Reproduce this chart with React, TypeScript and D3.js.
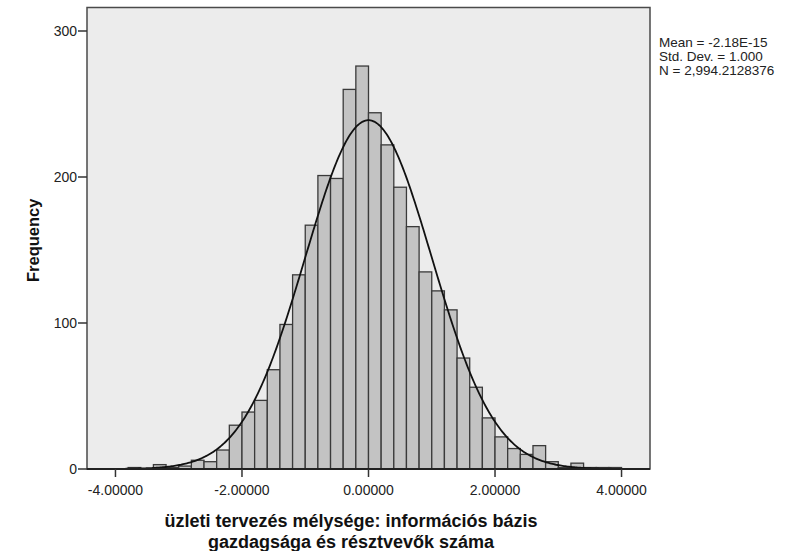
import React, { useEffect, useRef } from 'react';
import * as d3 from 'd3';

// histogram bins (left edge, width 0.2) and counts
const binStarts = [-3.8, -3.6, -3.4, -3.2, -3.0, -2.8, -2.6, -2.4, -2.2, -2.0, -1.8, -1.6, -1.4, -1.2, -1.0, -0.8, -0.6, -0.4, -0.2, 0.0, 0.2, 0.4, 0.6, 0.8, 1.0, 1.2, 1.4, 1.6, 1.8, 2.0, 2.2, 2.4, 2.6, 2.8, 3.0, 3.2, 3.4, 3.6, 3.8];
const counts = [1, 0, 3, 1, 2, 6, 5, 13, 30, 39, 47, 68, 99, 133, 167, 201, 199, 260, 276, 244, 222, 193, 166, 135, 122, 109, 76, 56, 35, 22, 14, 10, 16, 5, 1, 4, 1, 1, 1];
const binWidth = 0.2;

const xTicks = [-4, -2, 0, 2, 4];
const yTicks = [0, 100, 200, 300];

const statsMean = -2.18e-15;
const statsSd = 1.0;
const statsN = 2994.2128376;
const statsLines = ['Mean = -2.18E-15', 'Std. Dev. = 1.000', 'N = 2,994.2128376'];

const xTitleLines = ['üzleti tervezés mélysége: információs bázis', 'gazdagsága és résztvevők száma'];

const font = '"Liberation Sans", Arial, sans-serif';

const Histogram: React.FC = () => {
	const svgRef = useRef<SVGSVGElement>(null);

	useEffect(() => {
		if (!svgRef.current) return;

		const width = 800;
		const height = 551;
		const left = 87, right = 650, top = 7.5, bottom = 469;

		const x = d3.scaleLinear().domain([-4.45, 4.45]).range([left, right]);
		const y = d3.scaleLinear().domain([0, 300]).range([bottom, 31]);

		const svg = d3.select(svgRef.current)
			.attr('width', width)
			.attr('height', height);

		svg.selectAll('*').remove();

		// plot background
		svg.append('rect')
			.attr('x', left)
			.attr('y', top)
			.attr('width', right - left)
			.attr('height', bottom - top)
			.attr('fill', '#ececec');

		// bars
		svg.append('g')
			.selectAll('rect')
			.data(binStarts.map((s, i) => ({ s, c: counts[i] })).filter(d => d.c > 0))
			.join('rect')
			.attr('x', d => x(d.s))
			.attr('y', d => y(d.c))
			.attr('width', d => x(d.s + binWidth) - x(d.s))
			.attr('height', d => y(0) - y(d.c))
			.attr('fill', '#c3c3c3')
			.attr('stroke', '#3a3a3a')
			.attr('stroke-width', 1.3);

		// normal curve
		const scale = statsN * binWidth / (statsSd * Math.sqrt(2 * Math.PI));
		const pts = d3.range(-4.45, 4.4501, 0.02).map(v => [v, scale * Math.exp(-0.5 * ((v - statsMean) / statsSd) ** 2)] as [number, number]);
		svg.append('path')
			.attr('d', d3.line<[number, number]>().x(d => x(d[0])).y(d => y(d[1]))(pts) ?? '')
			.attr('fill', 'none')
			.attr('stroke', '#111')
			.attr('stroke-width', 1.8);

		// frame
		svg.append('rect')
			.attr('x', left)
			.attr('y', top)
			.attr('width', right - left)
			.attr('height', bottom - top)
			.attr('fill', 'none')
			.attr('stroke', '#4a4a4a')
			.attr('stroke-width', 1.5);

		svg.append('line')
			.attr('x1', left).attr('x2', right)
			.attr('y1', bottom).attr('y2', bottom)
			.attr('stroke', '#222')
			.attr('stroke-width', 1.8);

		// y axis
		const yAxis = svg.append('g');
		yTicks.forEach(t => {
			yAxis.append('line')
				.attr('x1', left - 9).attr('x2', left)
				.attr('y1', y(t)).attr('y2', y(t))
				.attr('stroke', '#333').attr('stroke-width', 1.5);
			yAxis.append('text')
				.attr('x', left - 10)
				.attr('y', y(t))
				.attr('dy', '0.36em')
				.attr('text-anchor', 'end')
				.attr('font-family', font)
				.attr('font-size', 14)
				.attr('fill', '#222')
				.text(t);
		});

		// x axis
		const xAxis = svg.append('g');
		xTicks.forEach(t => {
			xAxis.append('line')
				.attr('x1', x(t)).attr('x2', x(t))
				.attr('y1', bottom).attr('y2', bottom + 8)
				.attr('stroke', '#333').attr('stroke-width', 1.5);
			xAxis.append('text')
				.attr('x', x(t))
				.attr('y', 495)
				.attr('text-anchor', 'middle')
				.attr('font-family', font)
				.attr('font-size', 14)
				.attr('fill', '#222')
				.text(d3.format('.5f')(t).replace('−', '-'));
		});

		// axis titles
		svg.append('text')
			.attr('transform', `translate(39,${(top + bottom) / 2 + 2}) rotate(-90)`)
			.attr('text-anchor', 'middle')
			.attr('font-family', font)
			.attr('font-size', 16.5)
			.attr('font-weight', 'bold')
			.attr('fill', '#111')
			.text('Frequency');

		xTitleLines.forEach((line, i) => {
			svg.append('text')
				.attr('x', 351)
				.attr('y', 527 + i * 21)
				.attr('text-anchor', 'middle')
				.attr('font-family', font)
				.attr('font-size', 18)
				.attr('font-weight', 'bold')
				.attr('fill', '#111')
				.text(line);
		});

		// stats box
		statsLines.forEach((line, i) => {
			svg.append('text')
				.attr('x', 659)
				.attr('y', 47 + i * 14)
				.attr('font-family', font)
				.attr('font-size', 13.5)
				.attr('fill', '#222')
				.text(line);
		});
	}, []);

	return <svg ref={svgRef} style={{ position: 'absolute', left: 0, top: 0, display: 'block' }}></svg>;
};

export default function App() {
	return <Histogram />;
}
